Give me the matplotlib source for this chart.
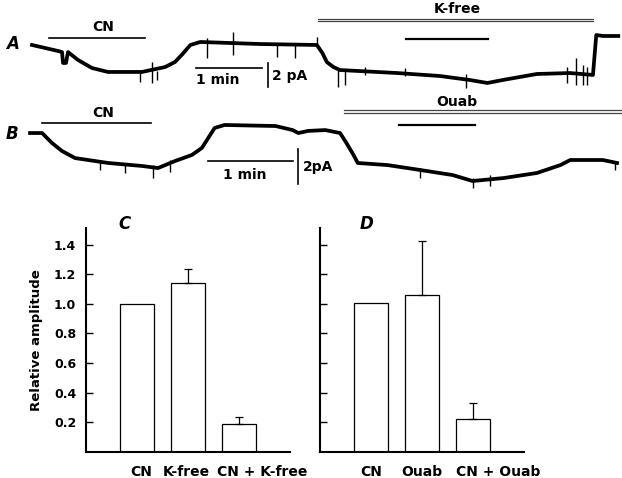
import numpy as np
import matplotlib.pyplot as plt

plt.rcParams['font.family'] = ['DejaVu Sans']
plt.rcParams['font.weight'] = 'bold'
plt.rcParams['axes.labelweight'] = 'bold'

# --- Trace A (time in s, current in pA) ---
a_t = [0, 23.6, 27.3, 28.2, 30.9, 32.7, 41.8, 54.5, 69, 100, 121, 130, 136,
       144, 153, 207, 259, 264, 268, 274, 280, 332, 371, 398, 414, 428, 459,
       489, 510, 513, 519, 533]
a_i = [0.17, -0.33, -0.42, -1.33, -1.33, -0.42, -1.08, -1.75, -2.08, -2.08,
       -1.67, -1.25, -0.67, 0.17, 0.42, 0.25, 0.17, -0.5, -1.25, -1.67, -1.92,
       -2.17, -2.42, -2.75, -3.0, -2.75, -2.25, -2.17, -2.33, 1.0, 0.92, 0.92]
a_spk_t = [98, 109, 114, 159, 183, 223, 239, 259, 278, 285, 303, 339, 395,
           486, 495, 501, 505]
a_spk_hi = [-2.08, -1.25, -2.0, 0.75, 1.25, 0.2, 0.3, 0.83, -1.9, -1.9, -1.67,
            -1.75, -2.25, -1.67, -0.92, -1.5, -1.67]
a_spk_lo = [-2.92, -3.0, -2.75, -0.92, -0.67, -0.83, -0.92, 0.0, -3.33, -3.17,
            -2.33, -2.42, -3.42, -3.0, -3.17, -3.17, -3.17]

# --- Trace B ---
b_t = [0.7, 9.2, 16.2, 23.3, 32.5, 55.8, 79.7, 91, 103, 115, 122, 131, 138,
       174, 186, 190, 197, 209, 219.5, 224, 229, 232, 253, 276, 299, 313, 335,
       358.5, 375, 382, 405, 415]
b_i = [-0.06, -0.06, -0.63, -1.09, -1.49, -1.77, -1.94, -2.06, -1.66, -1.31,
       -0.91, 0.23, 0.4, 0.34, 0.11, -0.06, 0.06, 0.11, -0.06, -0.63, -1.31,
       -1.77, -1.89, -2.17, -2.46, -2.8, -2.63, -2.34, -1.89, -1.6, -1.6, -1.77]
b_spk_t = [50, 68, 87.5, 99.5, 276, 313, 325, 413.5]
b_spk_hi = [-1.6, -1.77, -1.89, -1.6, -2.06, -2.63, -2.46, -1.71]
b_spk_lo = [-2.17, -2.34, -2.63, -2.29, -2.63, -3.2, -3.09, -2.17]

# --- Bar data ---
c_labels = ['CN', 'K-free', 'CN + K-free']
c_vals = [1.0, 1.144, 0.184]
c_err = [0.0, 0.093, 0.052]
d_labels = ['CN', 'Ouab', 'CN + Ouab']
d_vals = [1.005, 1.06, 0.218]
d_err = [0.0, 0.367, 0.109]
yticks = [0.2, 0.4, 0.6, 0.8, 1.0, 1.2, 1.4]

fig = plt.figure(figsize=(6.22, 4.78), dpi=100)

# Panel A
axA = fig.add_axes([0, 0.8013, 1, 0.1987])
axA.plot(a_t, a_i, color='black', lw=2.7)
axA.vlines(a_spk_t, a_spk_lo, a_spk_hi, color='black', lw=1.0)
axA.plot([15.5, 103], [0.75, 0.75], color='black', lw=1.2)
axA.text(64.5, 1.67, 'CN', ha='center', va='center', fontsize=10)
axA.plot([260, 510], [2.36, 2.36], color='#444444', lw=0.9)
axA.plot([260, 510], [2.19, 2.19], color='#444444', lw=0.9)
axA.text(387, 3.17, 'K-free', ha='center', va='center', fontsize=10)
axA.plot([340, 415], [0.67, 0.67], color='black', lw=1.6)
axA.plot([149, 209], [-1.75, -1.75], color='black', lw=1.2)
axA.plot([214.5, 214.5], [-1.33, -3.33], color='black', lw=1.2)
axA.text(169, -2.75, '1 min', ha='center', va='center', fontsize=10)
axA.text(218, -2.42, '2 pA', ha='left', va='center', fontsize=10)
axA.text(-18, 0.25, 'A', ha='center', va='center', fontsize=12, style='italic')
axA.set_xlim(-29.1, 536.4)
axA.set_ylim(-4.0, 3.92)
axA.axis('off')

# Panel B
axB = fig.add_axes([0, 0.592, 1, 0.2092])
axB.plot(b_t, b_i, color='black', lw=2.7)
axB.vlines(b_spk_t, b_spk_lo, b_spk_hi, color='black', lw=1.0)
axB.plot([9, 86], [0.51, 0.51], color='black', lw=1.2)
axB.text(52, 1.09, 'CN', ha='center', va='center', fontsize=10)
axB.plot([222, 420], [1.26, 1.26], color='#444444', lw=0.9)
axB.plot([222, 420], [1.1, 1.1], color='#444444', lw=0.9)
axB.text(302, 1.71, 'Ouab', ha='center', va='center', fontsize=10)
axB.plot([261, 315], [0.4, 0.4], color='black', lw=1.6)
axB.plot([126, 186], [-1.66, -1.66], color='black', lw=1.2)
axB.plot([190, 190], [-0.97, -2.97], color='black', lw=1.2)
axB.text(152, -2.46, '1 min', ha='center', va='center', fontsize=10)
axB.text(193, -2.0, '2pA', ha='left', va='center', fontsize=10)
axB.text(-12, -0.11, 'B', ha='center', va='center', fontsize=12, style='italic')
axB.set_xlim(-20.5, 418.5)
axB.set_ylim(-3.6, 2.11)
axB.axis('off')


def bar_panel(ax, labels, vals, err, label_pos, letter, letter_x, show_labels):
    x = np.arange(len(vals))
    ax.bar(x, vals, width=0.67, color='white', edgecolor='black', lw=0.9)
    # error bars only where an SEM is shown
    has_err = [i for i in x if err[i] > 0]
    ax.errorbar([x[i] for i in has_err], [vals[i] for i in has_err],
                yerr=[[0] * len(has_err), [err[i] for i in has_err]],
                fmt='none', ecolor='black', elinewidth=0.9, capsize=3,
                capthick=0.9)
    ax.set_xlim(-1, 3)
    ax.set_ylim(0, 1.515)
    ax.set_xticks(label_pos)
    ax.set_xticklabels(labels, fontsize=10)
    ax.tick_params(axis='x', length=0, pad=10)
    ax.set_yticks(yticks)
    if show_labels:
        ax.set_yticklabels(['%.1f' % v for v in yticks], fontsize=9)
        ax.set_ylabel('Relative amplitude', fontsize=9.5, labelpad=8)
    else:
        ax.set_yticklabels([])
    ax.tick_params(axis='y', direction='in', length=5, width=1.0, pad=7)
    for s in ['top', 'right']:
        ax.spines[s].set_visible(False)
    for s in ['left', 'bottom']:
        ax.spines[s].set_linewidth(1.5)
    ax.text(letter_x, 1.02, letter, transform=ax.transAxes, ha='center',
            va='center', fontsize=12, style='italic')


axC = fig.add_axes([0.1383, 0.0554, 0.328, 0.4676])
bar_panel(axC, c_labels, c_vals, c_err, [0.08, 0.96, 2.45], 'C', 0.19, True)
axD = fig.add_axes([0.5145, 0.0554, 0.328, 0.4676])
bar_panel(axD, d_labels, d_vals, d_err, [0.0, 1.0, 2.5], 'D', 0.23, False)

fig.savefig('out.png', dpi=100)
